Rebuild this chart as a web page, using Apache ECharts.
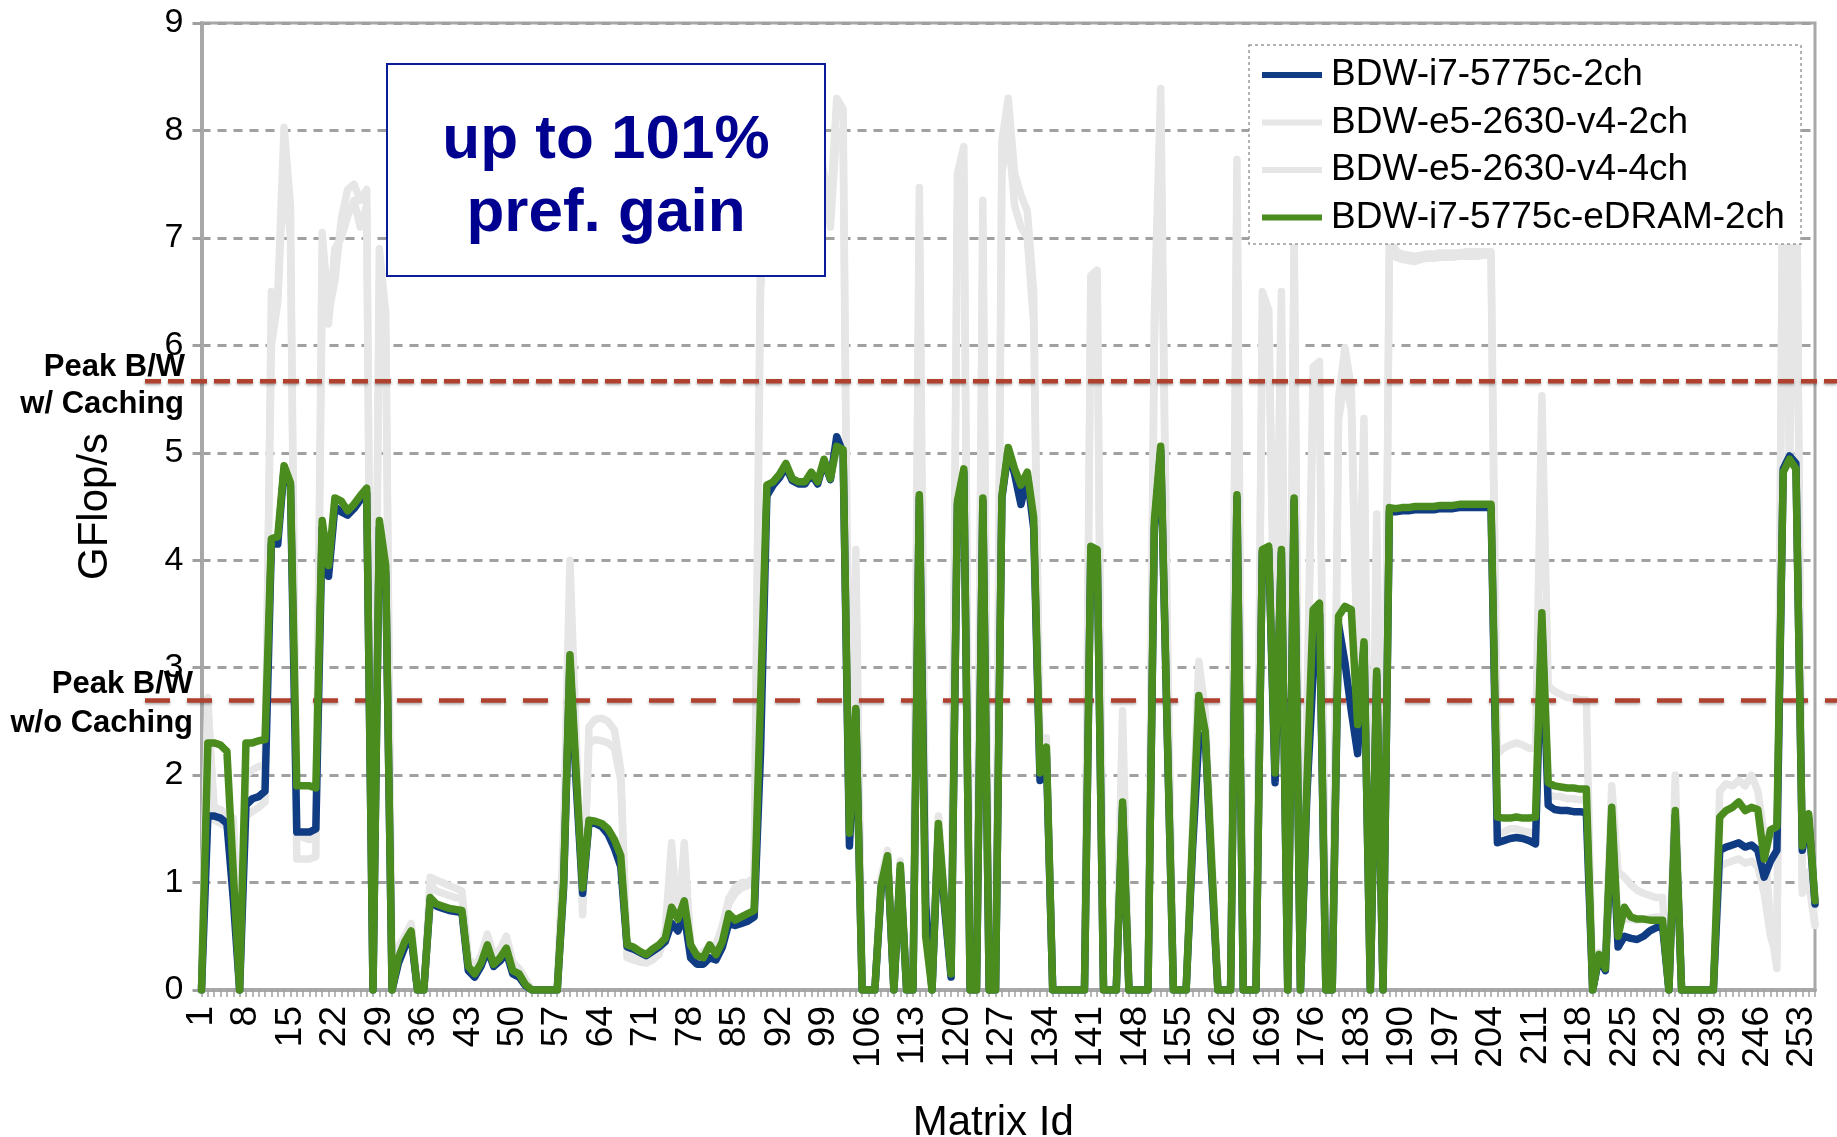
<!DOCTYPE html>
<html>
<head>
<meta charset="utf-8">
<script src="https://cdn.jsdelivr.net/npm/echarts@6/dist/echarts.min.js"></script>
<style>
  html, body { margin: 0; padding: 0; background: #fff; }
  #chart { width: 1837px; height: 1137px; }
</style>
</head>
<body>
<div id="chart"></div>
<script>
// Matrix ids 1..255 on the category axis
const matrixIds = Array.from({ length: 255 }, (_, i) => String(i + 1));

// GFlop/s per matrix, i7-5775c with 2 memory channels
const i7_2ch = [
  0, 1.62, 1.62, 1.6, 1.55, 0.85, 0, 1.72, 1.78, 1.8,
  1.85, 4.15, 4.15, 4.85, 4.7, 1.47, 1.47, 1.47, 1.5, 4.3,
  3.85, 4.5, 4.45, 4.42, 4.48, 4.56, 4.63, 0, 4.3, 3.88,
  0, 0.25, 0.4, 0.5, 0, 0, 0.84, 0.78, 0.76, 0.74,
  0.73, 0.72, 0.18, 0.12, 0.22, 0.38, 0.22, 0.27, 0.35, 0.15,
  0.12, 0.04, 0, 0, 0, 0, 0, 0.95, 3.05, 1.9,
  0.9, 1.56, 1.55, 1.52, 1.45, 1.32, 1.15, 0.4, 0.38, 0.35,
  0.32, 0.36, 0.4, 0.45, 0.62, 0.55, 0.7, 0.3, 0.24, 0.24,
  0.3, 0.28, 0.4, 0.62, 0.6, 0.62, 0.64, 0.68, 2.2, 4.6,
  4.7, 4.77, 4.87, 4.74, 4.71, 4.71, 4.8, 4.71, 4.92, 4.75,
  5.15, 5.0, 1.34, 2.6, 0, 0, 0, 0.95, 1.22, 0,
  1.12, 0, 0, 4.58, 0.8, 0, 1.5, 0.75, 0.12, 4.52,
  4.82, 0, 0, 4.55, 0, 0, 4.58, 5.02, 4.8, 4.52,
  4.78, 4.3, 1.95, 2.2, 0, 0, 0, 0, 0, 0,
  4.1, 4.08, 0, 0, 0, 1.7, 0, 0, 0, 0,
  4.3, 5.02, 2.45, 0, 0, 0, 1.3, 2.35, 2.38, 1.1,
  0, 0, 0, 4.58, 0, 0, 0, 4.08, 4.1, 1.93,
  4.07, 0, 4.55, 0, 1.8, 2.95, 3.5, 0, 0, 3.4,
  3.05, 2.6, 2.2, 3.2, 0, 2.93, 0, 4.45, 4.45, 4.46,
  4.46, 4.47, 4.47, 4.47, 4.47, 4.48, 4.48, 4.48, 4.49, 4.49,
  4.49, 4.49, 4.49, 4.49, 1.37, 1.39, 1.41, 1.42, 1.41, 1.39,
  1.36, 3.4, 1.72, 1.68, 1.67, 1.67, 1.66, 1.66, 1.65, 0,
  0.3, 0.18, 1.6, 0.4, 0.5, 0.48, 0.47, 0.5, 0.55, 0.58,
  0.6, 0, 1.62, 0, 0, 0, 0, 0, 0, 1.3,
  1.33, 1.35, 1.37, 1.33, 1.35, 1.3, 1.05, 1.2, 1.3, 4.85,
  4.97, 4.9, 1.3, 1.6, 0.8
];

// GFlop/s per matrix, e5-2630 v4 with 2 memory channels
const e5_2ch = [
  0, 2.72, 1.58, 1.55, 1.52, 1.5, 0.3, 1.62, 1.66, 1.7,
  1.75, 6.5, 6.45, 8.03, 7.3, 1.22, 1.22, 1.22, 1.24, 7.05,
  6.3, 6.6, 7.17, 7.45, 7.5, 7.35, 7.45, 0, 6.9, 6.3,
  0, 0.4, 0.5, 0.62, 0, 0, 1.05, 1.02, 1.0, 0.97,
  0.95, 0.92, 0.3, 0.22, 0.32, 0.52, 0.32, 0.38, 0.5, 0.26,
  0.2, 0.1, 0, 0, 0, 0, 0, 1.5, 4.0, 2.3,
  0.7, 2.45, 2.52, 2.53, 2.5, 2.42, 2.05, 0.33, 0.3, 0.28,
  0.27, 0.3, 0.35, 0.55, 1.37, 0.6, 1.37, 0.4, 0.3, 0.36,
  0.4, 0.42, 0.6, 0.85, 0.95, 1.0, 1.0, 1.05, 6.9, 7.8,
  8.0, 8.1, 8.2, 8.0, 7.9, 8.0, 8.1, 7.9, 7.6, 7.26,
  8.3, 8.2, 1.7, 4.1, 0, 0, 0, 1.05, 1.3, 0,
  1.2, 0, 0, 7.47, 1.0, 0, 1.62, 0.85, 0.2, 7.6,
  7.85, 0, 0, 7.35, 0, 0, 7.9, 8.3, 7.6, 7.4,
  7.25, 6.5, 2.2, 2.35, 0, 0, 0, 0, 0, 0,
  6.65, 6.7, 0, 0, 0, 2.6, 0, 0, 0, 0,
  6.3, 8.39, 3.5, 0, 0, 0, 1.5, 3.06, 2.6, 1.3,
  0, 0, 0, 7.73, 0, 0, 0, 6.5, 6.33, 3.0,
  6.5, 0, 7.08, 0, 2.5, 5.8, 5.85, 0, 0, 5.5,
  5.98, 5.6, 3.0, 5.32, 0, 4.43, 0, 7.05, 6.88, 6.85,
  6.84, 6.83, 6.84, 6.85, 6.85, 6.86, 6.86, 6.86, 6.86, 6.87,
  6.87, 6.87, 6.87, 6.87, 2.2, 2.25, 2.28, 2.3, 2.28, 2.25,
  2.25, 5.53, 2.83, 2.78, 2.75, 2.72, 2.72, 2.7, 2.7, 0,
  0.35, 0.3, 1.9, 1.1, 1.05, 0.98, 0.93, 0.9, 0.88, 0.86,
  0.86, 0, 2.0, 0, 0, 0, 0, 0, 0, 1.85,
  1.92, 1.9, 1.95, 1.9, 2.0, 1.85, 1.45, 0.6, 0.2, 8.3,
  5.0, 8.5, 0.95, 1.1, 0.62
];

// GFlop/s per matrix, e5-2630 v4 with 4 memory channels
const e5_4ch = [
  0, 2.6, 1.7, 1.68, 1.62, 1.6, 0.2, 2.0, 2.05, 2.08,
  2.1, 6.0, 6.4, 7.7, 7.0, 1.45, 1.42, 1.4, 1.42, 6.5,
  6.2, 6.9, 7.0, 7.2, 7.35, 7.1, 7.3, 0, 6.6, 6.1,
  0, 0.35, 0.48, 0.58, 0, 0, 0.98, 0.92, 0.9, 0.88,
  0.86, 0.85, 0.28, 0.2, 0.3, 0.48, 0.3, 0.35, 0.46, 0.22,
  0.18, 0.08, 0, 0, 0, 0, 0, 1.3, 3.6, 2.1,
  0.8, 2.3, 2.33, 2.32, 2.3, 2.25, 1.95, 0.3, 0.28, 0.26,
  0.25, 0.28, 0.33, 0.5, 1.2, 0.55, 1.3, 0.38, 0.28, 0.33,
  0.38, 0.4, 0.55, 0.8, 0.9, 0.95, 0.97, 1.0, 6.5, 7.5,
  7.7, 7.8, 7.9, 7.7, 7.6, 7.7, 7.8, 7.6, 7.4, 7.1,
  8.0, 7.9, 1.6, 3.8, 0, 0, 0, 1.02, 1.28, 0,
  1.18, 0, 0, 7.1, 0.9, 0, 1.6, 0.82, 0.18, 7.3,
  7.6, 0, 0, 7.0, 0, 0, 7.6, 8.0, 7.3, 7.1,
  7.0, 6.2, 2.15, 2.3, 0, 0, 0, 0, 0, 0,
  6.4, 6.5, 0, 0, 0, 2.4, 0, 0, 0, 0,
  6.0, 8.0, 3.3, 0, 0, 0, 1.45, 2.9, 2.5, 1.25,
  0, 0, 0, 7.4, 0, 0, 0, 6.2, 6.1, 2.8,
  6.2, 0, 6.8, 0, 2.4, 5.5, 5.6, 0, 0, 5.3,
  5.7, 5.4, 2.9, 5.1, 0, 4.2, 0, 6.9, 6.82, 6.8,
  6.79, 6.78, 6.8, 6.81, 6.81, 6.82, 6.82, 6.82, 6.83, 6.83,
  6.83, 6.83, 6.84, 6.84, 1.45, 1.47, 1.5, 1.5, 1.48, 1.47,
  1.45, 3.6, 1.82, 1.8, 1.8, 1.78, 1.78, 1.77, 1.77, 0,
  0.32, 0.28, 1.75, 0.62, 0.66, 0.66, 0.65, 0.66, 0.67, 0.68,
  0.68, 0, 1.8, 0, 0, 0, 0, 0, 0, 1.15,
  1.18, 1.2, 1.22, 1.18, 1.2, 1.15, 0.9, 0.5, 0.3, 8.0,
  4.9, 8.2, 0.9, 1.0, 0.6
];

// GFlop/s per matrix, i7-5775c using eDRAM, 2 memory channels
const i7_edram = [
  0, 2.3, 2.3, 2.28, 2.22, 1.1, 0, 2.3, 2.3, 2.32,
  2.33, 4.2, 4.22, 4.88, 4.72, 1.9, 1.9, 1.9, 1.88, 4.37,
  3.95, 4.58, 4.55, 4.46, 4.52, 4.6, 4.67, 0, 4.37, 3.95,
  0, 0.3, 0.45, 0.55, 0, 0, 0.86, 0.8, 0.78, 0.76,
  0.75, 0.74, 0.22, 0.15, 0.25, 0.42, 0.24, 0.3, 0.39, 0.18,
  0.15, 0.05, 0, 0, 0, 0, 0, 1.0, 3.12, 2.0,
  0.95, 1.58, 1.57, 1.55, 1.5, 1.4, 1.25, 0.42, 0.4, 0.36,
  0.33, 0.38, 0.42, 0.48, 0.77, 0.66, 0.83, 0.42, 0.32, 0.3,
  0.42, 0.33, 0.45, 0.71, 0.65, 0.68, 0.71, 0.74, 2.7, 4.7,
  4.73, 4.8, 4.9, 4.76, 4.73, 4.73, 4.82, 4.73, 4.94, 4.76,
  5.06, 5.03, 1.46, 2.62, 0, 0, 0, 0.98, 1.25, 0,
  1.16, 0, 0, 4.61, 0.5, 0, 1.55, 0.8, 0.15, 4.55,
  4.85, 0, 0, 4.58, 0, 0, 4.6, 5.05, 4.85, 4.7,
  4.82, 4.4, 2.02, 2.26, 0, 0, 0, 0, 0, 0,
  4.13, 4.1, 0, 0, 0, 1.75, 0, 0, 0, 0,
  4.37, 5.06, 2.5, 0, 0, 0, 1.4, 2.74, 2.41, 1.2,
  0, 0, 0, 4.61, 0, 0, 0, 4.1, 4.13, 2.02,
  4.1, 0, 4.58, 0, 1.9, 3.54, 3.6, 0, 0, 3.48,
  3.57, 3.54, 2.47, 3.24, 0, 2.97, 0, 4.49, 4.48, 4.49,
  4.49, 4.5, 4.5, 4.5, 4.5, 4.51, 4.51, 4.51, 4.52, 4.52,
  4.52, 4.52, 4.52, 4.52, 1.61, 1.6, 1.6, 1.61, 1.6, 1.6,
  1.61, 3.51, 1.93, 1.9, 1.89, 1.88, 1.88, 1.87, 1.87, 0,
  0.33, 0.2, 1.7, 0.5, 0.77, 0.68, 0.66, 0.66, 0.65, 0.65,
  0.65, 0, 1.67, 0, 0, 0, 0, 0, 0, 1.61,
  1.67, 1.7, 1.75, 1.67, 1.7, 1.68, 1.22, 1.49, 1.52, 4.82,
  4.94, 4.85, 1.34, 1.64, 0.83
];

// Peak bandwidth limits (GFlop/s) with and without caching
const peakWithCaching = 5.665;
const peakWithoutCaching = 2.695;

const FONT = 'Liberation Sans, Arial, sans-serif';
const BLUE = '#0f3c82';
const GREEN = '#4b8c1e';
const GRAY = '#e6e6e6';
const AXIS_GRAY = '#a8a8a8';
const PEAK_RED = '#b0412f';

function lineSeries(name, data, color, z, width) {
  return {
    name, type: 'line', data, z,
    symbol: 'none', showSymbol: false,
    lineStyle: { color, width, cap: 'round', join: 'round' },
    itemStyle: { color },
    emphasis: { disabled: true },
    silent: true
  };
}

const chart = echarts.init(document.getElementById('chart'), null, { renderer: 'canvas' });

chart.setOption({
  animation: false,
  backgroundColor: '#fff',
  textStyle: { fontFamily: FONT },
  grid: {
    left: 201.5, right: 22, top: 23, bottom: 147,
    containLabel: false, outerBoundsMode: 'none',
    show: true, borderColor: AXIS_GRAY, borderWidth: 3, backgroundColor: '#fff'
  },
  legend: {
    orient: 'vertical', left: 1262, top: 55, z: 20,
    padding: 0, itemGap: 7.5, itemWidth: 60, itemHeight: 6,
    icon: 'rect', selectedMode: false,
    textStyle: { fontFamily: FONT, fontSize: 37, lineHeight: 40, color: '#000', padding: [0, 0, 0, 4] },
    data: ['BDW-i7-5775c-2ch', 'BDW-e5-2630-v4-2ch', 'BDW-e5-2630-v4-4ch', 'BDW-i7-5775c-eDRAM-2ch']
  },
  xAxis: {
    type: 'category', data: matrixIds, boundaryGap: false,
    name: 'Matrix Id', nameLocation: 'middle', nameGap: 112,
    nameTextStyle: { fontFamily: FONT, fontSize: 42, color: '#000', padding: [0, 30, 0, 0] },
    axisLine: { lineStyle: { color: AXIS_GRAY, width: 4 } },
    axisTick: { show: true, interval: 0, length: 7, lineStyle: { color: '#a0a0a0', width: 1.5 } },
    axisLabel: { interval: 6, rotate: 90, fontFamily: FONT, fontSize: 37, color: '#000', margin: 16 },
    splitLine: { show: false }
  },
  yAxis: {
    type: 'value', min: 0, max: 9, interval: 1,
    name: 'GFlop/s', nameLocation: 'middle', nameGap: 85, nameRotate: 90,
    nameTextStyle: { fontFamily: FONT, fontSize: 42, color: '#000' },
    axisLine: { show: true, lineStyle: { color: AXIS_GRAY, width: 4 } },
    axisTick: { show: true, length: 9, lineStyle: { color: '#a0a0a0', width: 3 } },
    axisLabel: { fontFamily: FONT, fontSize: 34, color: '#000', margin: 18 },
    splitLine: { show: true, lineStyle: { color: '#a0a0a0', width: 3, type: [9, 7] } }
  },
  series: [
    lineSeries('BDW-e5-2630-v4-2ch', e5_2ch, GRAY, 1, 7.5),
    lineSeries('BDW-e5-2630-v4-4ch', e5_4ch, GRAY, 1, 7.5),
    lineSeries('BDW-i7-5775c-2ch', i7_2ch, BLUE, 3, 7.5),
    lineSeries('BDW-i7-5775c-eDRAM-2ch', i7_edram, GREEN, 3, 7.5)
  ]
});

// Peak bandwidth guides and annotations, placed from the value axis
const yHigh = chart.convertToPixel({ yAxisIndex: 0 }, peakWithCaching);
const yLow = chart.convertToPixel({ yAxisIndex: 0 }, peakWithoutCaching);
const W = chart.getWidth();

const labelFont = 'bold 31px ' + FONT;

chart.setOption({
  graphic: [
    {
      type: 'line', z: 2, silent: true,
      shape: { x1: 145, y1: yHigh, x2: W, y2: yHigh },
      style: { stroke: PEAK_RED, lineWidth: 4.5, lineDash: [16, 7],
               shadowBlur: 3, shadowColor: 'rgba(0,0,0,0.35)', shadowOffsetY: 1.5 }
    },
    {
      type: 'line', z: 2, silent: true,
      shape: { x1: 145, y1: yLow, x2: W, y2: yLow },
      style: { stroke: PEAK_RED, lineWidth: 4.5, lineDash: [25, 17],
               shadowBlur: 3, shadowColor: 'rgba(0,0,0,0.35)', shadowOffsetY: 1.5 }
    },
    {
      type: 'text', z: 12, silent: true, x: 185, y: yHigh - 14,
      style: { text: 'Peak B/W', font: labelFont, fill: '#000', align: 'right', verticalAlign: 'middle' }
    },
    {
      type: 'text', z: 12, silent: true, x: 184, y: yHigh + 23,
      style: { text: 'w/ Caching', font: labelFont, fill: '#000', align: 'right', verticalAlign: 'middle' }
    },
    {
      type: 'text', z: 12, silent: true, x: 193, y: yLow - 16,
      style: { text: 'Peak B/W', font: labelFont, fill: '#000', align: 'right', verticalAlign: 'middle' }
    },
    {
      type: 'text', z: 12, silent: true, x: 193, y: yLow + 23,
      style: { text: 'w/o Caching', font: labelFont, fill: '#000', align: 'right', verticalAlign: 'middle' }
    },
    // callout box
    {
      type: 'rect', z: 10, silent: true,
      shape: { x: 387, y: 64, width: 438, height: 212 },
      style: { fill: '#fff', stroke: '#0c1c98', lineWidth: 2 }
    },
    {
      type: 'text', z: 11, silent: true, x: 606, y: 177,
      style: { text: 'up to 101%\npref. gain', font: 'bold 62px ' + FONT, fill: '#000090',
               align: 'center', verticalAlign: 'middle', lineHeight: 73 }
    },
    // legend frame
    {
      type: 'rect', z: 10, silent: true,
      shape: { x: 1249, y: 45, width: 552, height: 199 },
      style: { fill: '#fff', stroke: '#9a9a9a', lineWidth: 1.5, lineDash: [3, 3] }
    }
  ]
});
</script>
</body>
</html>
